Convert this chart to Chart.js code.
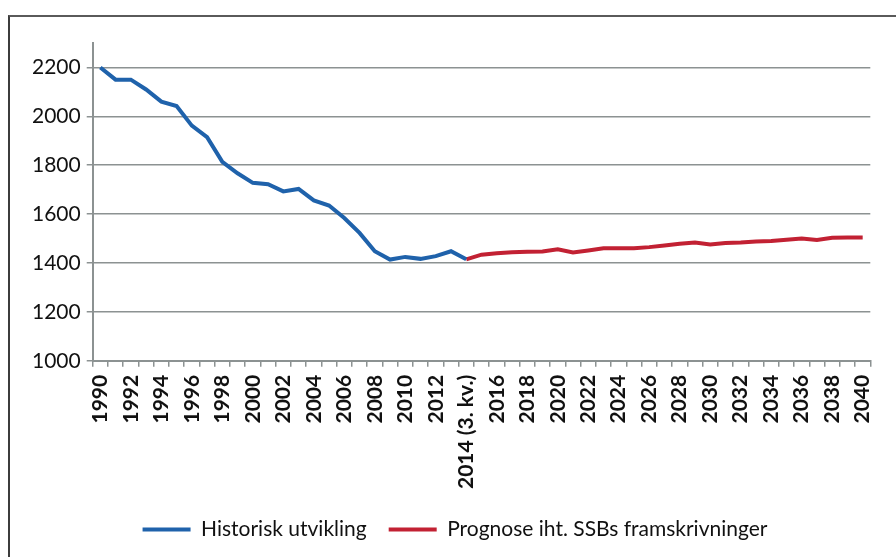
<!DOCTYPE html>
<html>
<head>
<meta charset="utf-8">
<script src="https://cdn.jsdelivr.net/npm/chart.js@4.4.1/dist/chart.umd.min.js"></script>
<style>
    html, body { margin: 0; padding: 0; background: #fff; }
    .frame {
        position: absolute;
        left: 8px;
        top: 15px;
        width: 888px;
        height: 542px;
        border-left: 2px solid #3c3c3c;
        border-top: 2px solid #5a5a5a;
    }
    .chart-box { position: relative; width: 886px; height: 540px; }
</style>
</head>
<body>
<div class="frame">
    <div class="chart-box"><canvas id="trendChart"></canvas></div>
</div>
<script>
// Categories: 1990 .. 2040 (2014 is 3rd quarter)
const years = ['1990', '1991', '1992', '1993', '1994', '1995', '1996', '1997', '1998', '1999',
    '2000', '2001', '2002', '2003', '2004', '2005', '2006', '2007', '2008', '2009',
    '2010', '2011', '2012', '2013', '2014 (3. kv.)', '2015', '2016', '2017', '2018', '2019',
    '2020', '2021', '2022', '2023', '2024', '2025', '2026', '2027', '2028', '2029',
    '2030', '2031', '2032', '2033', '2034', '2035', '2036', '2037', '2038', '2039', '2040'];

// Historisk utvikling, 1990 - 2014
const historisk = [2200, 2150, 2150, 2110, 2060, 2042, 1962, 1915, 1814, 1767,
    1728, 1722, 1693, 1703, 1656, 1635, 1584, 1523, 1448, 1414,
    1425, 1417, 1428, 1448, 1415];

// Prognose, 2014 - 2040
const prognose = [1415, 1434, 1440, 1444, 1446, 1447, 1456, 1443, 1451, 1460,
    1460, 1460, 1465, 1472, 1479, 1484, 1476, 1482, 1484, 1488,
    1490, 1495, 1500, 1494, 1503, 1504, 1504];

const yTicks = [1000, 1200, 1400, 1600, 1800, 2000, 2200];

const BLUE = '#1f62ab';
const RED = '#c22133';
const GRID = '#8c9292';

const histData = years.map((y, i) => i < historisk.length ? historisk[i] : null);
const progStart = years.length - prognose.length;
const progData = years.map((y, i) => i >= progStart ? prognose[i - progStart] : null);

new Chart(document.getElementById('trendChart'), {
    type: 'line',
    data: {
        labels: years,
        datasets: [{
            label: 'Historisk utvikling',
            data: histData,
            borderColor: BLUE,
            backgroundColor: BLUE,
            borderWidth: 4,
            pointRadius: 0,
            tension: 0
        }, {
            label: 'Prognose iht. SSBs framskrivninger',
            data: progData,
            borderColor: RED,
            backgroundColor: RED,
            borderWidth: 4,
            pointRadius: 0,
            tension: 0
        }]
    },
    options: {
        responsive: true,
        maintainAspectRatio: false,
        animation: false,
        layout: {
            padding: { top: 26, right: 12, bottom: 7, left: 16 }
        },
        plugins: {
            tooltip: { enabled: false },
            legend: {
                position: 'bottom',
                labels: {
                    boxWidth: 48,
                    boxHeight: 4,
                    padding: 22,
                    color: '#111',
                    font: { family: 'Lato', size: 21 },
                    generateLabels: function(chart) {
                        const items = Chart.defaults.plugins.legend.labels.generateLabels(chart);
                        items.forEach(it => { it.lineWidth = 0; });
                        return items;
                    }
                }
            }
        },
        scales: {
            x: {
                offset: true,
                grid: {
                    offset: true,
                    drawOnChartArea: false,
                    drawTicks: true,
                    tickLength: 6,
                    color: GRID,
                    lineWidth: 1.5
                },
                border: { display: true, color: GRID, width: 2 },
                ticks: {
                    autoSkip: false,
                    minRotation: 90,
                    maxRotation: 90,
                    padding: 8,
                    color: '#111',
                    font: { family: 'Lato', size: 21, weight: 'bold' },
                    callback: function(value, index) {
                        return index % 2 === 0 ? years[index] : '';
                    }
                }
            },
            y: {
                min: 1000,
                max: 2300,
                afterBuildTicks: function(scale) {
                    scale.ticks = yTicks.map(v => ({ value: v }));
                },
                grid: {
                    color: GRID,
                    lineWidth: 1.5,
                    tickLength: 6
                },
                border: { display: true, color: GRID, width: 2 },
                ticks: {
                    padding: 6,
                    color: '#111',
                    font: { family: 'Lato', size: 21 },
                    callback: function(value) {
                        return String(value);
                    }
                }
            }
        }
    }
});
</script>
</body>
</html>
